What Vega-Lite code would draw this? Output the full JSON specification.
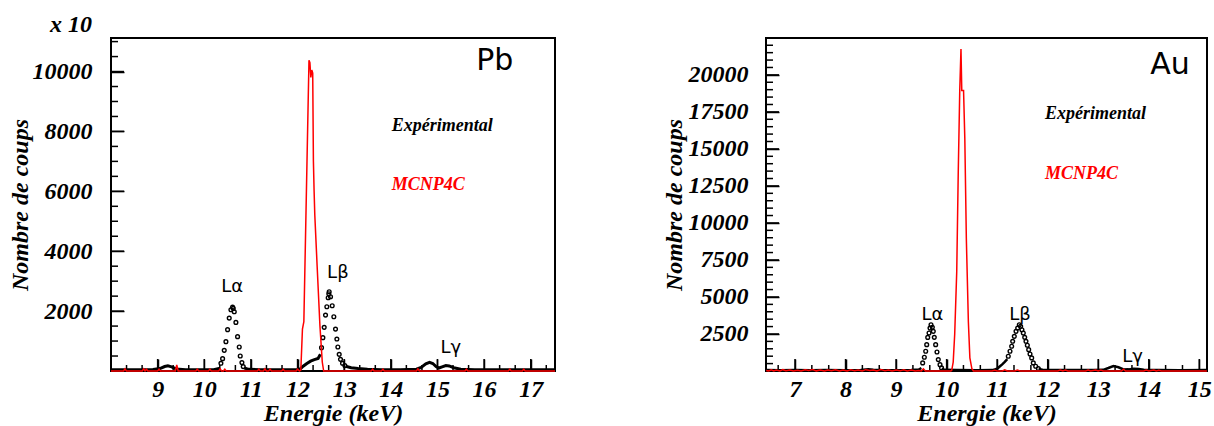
{
  "$schema": "https://vega.github.io/schema/vega-lite/v6.json",
  "padding": {"left": 7, "top": 12, "right": 0, "bottom": 0},
  "bounds": "flush",
  "spacing": 211,
  "datasets": {
    "pb_line": [
      {"E": 8.0, "counts": 45, "seg": 1}, {"E": 8.3, "counts": 40, "seg": 1}, {"E": 8.6, "counts": 45, "seg": 1}, {"E": 8.9, "counts": 50, "seg": 1},
      {"E": 9.05, "counts": 80, "seg": 1}, {"E": 9.15, "counts": 150, "seg": 1}, {"E": 9.22, "counts": 175, "seg": 1}, {"E": 9.3, "counts": 140, "seg": 1},
      {"E": 9.4, "counts": 70, "seg": 1}, {"E": 9.6, "counts": 45, "seg": 1}, {"E": 9.9, "counts": 40, "seg": 1}, {"E": 10.2, "counts": 45, "seg": 1},
      {"E": 10.34, "counts": 90, "seg": 1},
      {"E": 10.86, "counts": 100, "seg": 2}, {"E": 10.95, "counts": 55, "seg": 2}, {"E": 11.2, "counts": 45, "seg": 2}, {"E": 11.5, "counts": 40, "seg": 2},
      {"E": 11.8, "counts": 45, "seg": 2}, {"E": 12.0, "counts": 50, "seg": 2}, {"E": 12.06, "counts": 70, "seg": 2}, {"E": 12.12, "counts": 160, "seg": 2},
      {"E": 12.2, "counts": 250, "seg": 2}, {"E": 12.28, "counts": 330, "seg": 2}, {"E": 12.36, "counts": 380, "seg": 2}, {"E": 12.44, "counts": 420, "seg": 2},
      {"E": 12.49, "counts": 560, "seg": 2},
      {"E": 13.03, "counts": 160, "seg": 3}, {"E": 13.15, "counts": 110, "seg": 3}, {"E": 13.3, "counts": 80, "seg": 3}, {"E": 13.5, "counts": 60, "seg": 3},
      {"E": 13.8, "counts": 45, "seg": 3}, {"E": 14.2, "counts": 45, "seg": 3}, {"E": 14.55, "counts": 60, "seg": 3}, {"E": 14.65, "counts": 120, "seg": 3},
      {"E": 14.75, "counts": 240, "seg": 3}, {"E": 14.83, "counts": 290, "seg": 3}, {"E": 14.9, "counts": 250, "seg": 3}, {"E": 14.97, "counts": 150, "seg": 3},
      {"E": 15.03, "counts": 100, "seg": 3}, {"E": 15.1, "counts": 140, "seg": 3}, {"E": 15.18, "counts": 180, "seg": 3}, {"E": 15.25, "counts": 170, "seg": 3},
      {"E": 15.35, "counts": 110, "seg": 3}, {"E": 15.5, "counts": 60, "seg": 3}, {"E": 15.8, "counts": 45, "seg": 3}, {"E": 16.2, "counts": 40, "seg": 3},
      {"E": 16.8, "counts": 45, "seg": 3}, {"E": 17.2, "counts": 40, "seg": 3}, {"E": 17.52, "counts": 40, "seg": 3}
    ],
    "pb_pts": [
      {"E": 10.357, "counts": 257}, {"E": 10.393, "counts": 413}, {"E": 10.428, "counts": 690}, {"E": 10.464, "counts": 980},
      {"E": 10.5, "counts": 1380}, {"E": 10.535, "counts": 1767}, {"E": 10.571, "counts": 2045}, {"E": 10.607, "counts": 2133},
      {"E": 10.621, "counts": 2090}, {"E": 10.643, "counts": 1980}, {"E": 10.678, "counts": 1623}, {"E": 10.714, "counts": 1147},
      {"E": 10.75, "counts": 800}, {"E": 10.771, "counts": 500}, {"E": 10.807, "counts": 280}, {"E": 10.835, "counts": 147},
      {"E": 12.514, "counts": 780}, {"E": 12.543, "counts": 1113}, {"E": 12.571, "counts": 1457}, {"E": 12.6, "counts": 1867},
      {"E": 12.628, "counts": 2147}, {"E": 12.657, "counts": 2447}, {"E": 12.67, "counts": 2580}, {"E": 12.678, "counts": 2647},
      {"E": 12.707, "counts": 2480}, {"E": 12.743, "counts": 2180}, {"E": 12.778, "counts": 1813}, {"E": 12.814, "counts": 1400},
      {"E": 12.843, "counts": 1067}, {"E": 12.864, "counts": 800}, {"E": 12.893, "counts": 557}, {"E": 12.921, "counts": 390},
      {"E": 12.964, "counts": 257}, {"E": 13.014, "counts": 180}
    ],
    "pb_mc": [
      {"E": 8.0, "counts": 0}, {"E": 8.27, "counts": 0}, {"E": 8.3, "counts": 70}, {"E": 8.33, "counts": 0},
      {"E": 8.67, "counts": 0}, {"E": 8.7, "counts": 70}, {"E": 8.73, "counts": 0}, {"E": 8.76, "counts": 60}, {"E": 8.79, "counts": 0},
      {"E": 9.0, "counts": 0}, {"E": 9.03, "counts": 60}, {"E": 9.06, "counts": 0}, {"E": 9.38, "counts": 0}, {"E": 9.41, "counts": 200}, {"E": 9.44, "counts": 0},
      {"E": 9.82, "counts": 0}, {"E": 9.85, "counts": 60}, {"E": 9.88, "counts": 0}, {"E": 10.09, "counts": 0}, {"E": 10.12, "counts": 60}, {"E": 10.15, "counts": 0},
      {"E": 10.31, "counts": 0}, {"E": 10.34, "counts": 70}, {"E": 10.37, "counts": 0}, {"E": 10.41, "counts": 0}, {"E": 10.44, "counts": 60}, {"E": 10.47, "counts": 0},
      {"E": 11.14, "counts": 0}, {"E": 11.17, "counts": 60}, {"E": 11.2, "counts": 0}, {"E": 11.27, "counts": 0}, {"E": 11.3, "counts": 70}, {"E": 11.33, "counts": 0},
      {"E": 11.38, "counts": 0}, {"E": 11.41, "counts": 60}, {"E": 11.44, "counts": 0}, {"E": 11.66, "counts": 0}, {"E": 11.69, "counts": 60}, {"E": 11.72, "counts": 0},
      {"E": 11.97, "counts": 0}, {"E": 12.0, "counts": 60}, {"E": 12.04, "counts": 0},
      {"E": 12.07, "counts": 30}, {"E": 12.105, "counts": 1400}, {"E": 12.135, "counts": 1650}, {"E": 12.245, "counts": 10380},
      {"E": 12.265, "counts": 10300}, {"E": 12.285, "counts": 9800}, {"E": 12.305, "counts": 10050}, {"E": 12.325, "counts": 9950},
      {"E": 12.34, "counts": 7000}, {"E": 12.355, "counts": 6000}, {"E": 12.37, "counts": 5200}, {"E": 12.42, "counts": 3500},
      {"E": 12.48, "counts": 1500}, {"E": 12.53, "counts": 300}, {"E": 12.56, "counts": 0},
      {"E": 13.58, "counts": 0}, {"E": 13.61, "counts": 60}, {"E": 13.64, "counts": 0}, {"E": 13.8, "counts": 0}, {"E": 13.83, "counts": 60}, {"E": 13.86, "counts": 0},
      {"E": 14.55, "counts": 0}, {"E": 14.58, "counts": 70}, {"E": 14.61, "counts": 0}, {"E": 15.59, "counts": 0}, {"E": 15.62, "counts": 60}, {"E": 15.65, "counts": 0},
      {"E": 16.52, "counts": 0}, {"E": 16.55, "counts": 60}, {"E": 16.58, "counts": 0}, {"E": 16.82, "counts": 0}, {"E": 16.85, "counts": 60}, {"E": 16.88, "counts": 0},
      {"E": 17.52, "counts": 0}
    ],
    "au_line": [
      {"E": 6.43, "counts": 60, "seg": 1}, {"E": 6.7, "counts": 50, "seg": 1}, {"E": 7.0, "counts": 60, "seg": 1}, {"E": 7.3, "counts": 55, "seg": 1},
      {"E": 7.6, "counts": 60, "seg": 1}, {"E": 8.0, "counts": 55, "seg": 1}, {"E": 8.3, "counts": 60, "seg": 1}, {"E": 8.45, "counts": 120, "seg": 1},
      {"E": 8.55, "counts": 90, "seg": 1}, {"E": 8.7, "counts": 60, "seg": 1}, {"E": 9.0, "counts": 55, "seg": 1}, {"E": 9.3, "counts": 60, "seg": 1},
      {"E": 9.45, "counts": 100, "seg": 1}, {"E": 9.5, "counts": 200, "seg": 1},
      {"E": 9.9, "counts": 150, "seg": 2}, {"E": 9.95, "counts": 80, "seg": 2}, {"E": 10.2, "counts": 60, "seg": 2}, {"E": 10.6, "counts": 55, "seg": 2},
      {"E": 10.9, "counts": 60, "seg": 2}, {"E": 10.95, "counts": 100, "seg": 2}, {"E": 11.0, "counts": 150, "seg": 2}, {"E": 11.05, "counts": 300, "seg": 2},
      {"E": 11.1, "counts": 450, "seg": 2}, {"E": 11.15, "counts": 620, "seg": 2}, {"E": 11.2, "counts": 800, "seg": 2},
      {"E": 11.82, "counts": 130, "seg": 3}, {"E": 11.9, "counts": 90, "seg": 3}, {"E": 12.1, "counts": 70, "seg": 3}, {"E": 12.5, "counts": 60, "seg": 3},
      {"E": 12.9, "counts": 60, "seg": 3}, {"E": 13.1, "counts": 80, "seg": 3}, {"E": 13.2, "counts": 200, "seg": 3}, {"E": 13.3, "counts": 330, "seg": 3},
      {"E": 13.4, "counts": 250, "seg": 3}, {"E": 13.5, "counts": 100, "seg": 3}, {"E": 13.6, "counts": 110, "seg": 3}, {"E": 13.7, "counts": 150, "seg": 3},
      {"E": 13.8, "counts": 130, "seg": 3}, {"E": 13.9, "counts": 80, "seg": 3}, {"E": 14.2, "counts": 60, "seg": 3}, {"E": 14.6, "counts": 55, "seg": 3},
      {"E": 15.15, "counts": 60, "seg": 3}
    ],
    "au_pts": [
      {"E": 9.526, "counts": 545}, {"E": 9.559, "counts": 928}, {"E": 9.586, "counts": 1332}, {"E": 9.606, "counts": 1780},
      {"E": 9.626, "counts": 2270}, {"E": 9.652, "counts": 2565}, {"E": 9.671, "counts": 2900}, {"E": 9.691, "counts": 3123},
      {"E": 9.717, "counts": 2950}, {"E": 9.736, "counts": 2680}, {"E": 9.756, "counts": 2275}, {"E": 9.783, "counts": 1780},
      {"E": 9.809, "counts": 1285}, {"E": 9.835, "counts": 770}, {"E": 9.869, "counts": 430}, {"E": 9.9, "counts": 210},
      {"E": 11.22, "counts": 995}, {"E": 11.254, "counts": 1332}, {"E": 11.287, "counts": 1669}, {"E": 11.307, "counts": 2006},
      {"E": 11.339, "counts": 2342}, {"E": 11.373, "counts": 2679}, {"E": 11.406, "counts": 2901}, {"E": 11.438, "counts": 3123},
      {"E": 11.465, "counts": 3015}, {"E": 11.49, "counts": 2787}, {"E": 11.517, "counts": 2564}, {"E": 11.545, "counts": 2275},
      {"E": 11.57, "counts": 2006}, {"E": 11.597, "counts": 1737}, {"E": 11.624, "counts": 1440}, {"E": 11.65, "counts": 1151},
      {"E": 11.683, "counts": 882}, {"E": 11.715, "counts": 545}, {"E": 11.762, "counts": 323}, {"E": 11.815, "counts": 161}
    ],
    "au_mc": [
      {"E": 6.43, "counts": 40}, {"E": 6.48, "counts": 0}, {"E": 6.53, "counts": 80}, {"E": 6.58, "counts": 10}, {"E": 6.63, "counts": 60},
      {"E": 6.7, "counts": 0}, {"E": 6.76, "counts": 90}, {"E": 6.82, "counts": 20}, {"E": 6.9, "counts": 70}, {"E": 6.97, "counts": 0},
      {"E": 7.05, "counts": 50}, {"E": 7.12, "counts": 0}, {"E": 7.2, "counts": 80}, {"E": 7.27, "counts": 30}, {"E": 7.35, "counts": 100},
      {"E": 7.42, "counts": 10}, {"E": 7.5, "counts": 60}, {"E": 7.58, "counts": 0}, {"E": 7.65, "counts": 70}, {"E": 7.72, "counts": 20},
      {"E": 7.8, "counts": 90}, {"E": 7.88, "counts": 0}, {"E": 7.95, "counts": 60}, {"E": 8.03, "counts": 0}, {"E": 8.1, "counts": 80},
      {"E": 8.18, "counts": 20}, {"E": 8.25, "counts": 60}, {"E": 8.33, "counts": 0}, {"E": 8.4, "counts": 90}, {"E": 8.48, "counts": 30},
      {"E": 8.55, "counts": 70}, {"E": 8.62, "counts": 0}, {"E": 8.7, "counts": 100}, {"E": 8.78, "counts": 20}, {"E": 8.85, "counts": 70},
      {"E": 8.92, "counts": 0}, {"E": 9.0, "counts": 60}, {"E": 9.08, "counts": 10}, {"E": 9.15, "counts": 80}, {"E": 9.22, "counts": 0},
      {"E": 9.3, "counts": 60}, {"E": 9.38, "counts": 0}, {"E": 9.45, "counts": 40}, {"E": 9.5, "counts": 0}, {"E": 9.54, "counts": 150},
      {"E": 9.58, "counts": 0}, {"E": 10.08, "counts": 0},
      {"E": 10.1, "counts": 30}, {"E": 10.13, "counts": 600}, {"E": 10.16, "counts": 2500}, {"E": 10.2, "counts": 6700},
      {"E": 10.23, "counts": 13400}, {"E": 10.26, "counts": 19000}, {"E": 10.284, "counts": 21750}, {"E": 10.3, "counts": 18940},
      {"E": 10.335, "counts": 18940}, {"E": 10.36, "counts": 15690}, {"E": 10.39, "counts": 8960}, {"E": 10.43, "counts": 3350},
      {"E": 10.46, "counts": 880}, {"E": 10.5, "counts": 150}, {"E": 10.53, "counts": 0},
      {"E": 10.9, "counts": 0}, {"E": 10.95, "counts": 50}, {"E": 11.0, "counts": 0}, {"E": 11.1, "counts": 0}, {"E": 11.15, "counts": 80},
      {"E": 11.2, "counts": 0}, {"E": 11.35, "counts": 0}, {"E": 11.4, "counts": 60}, {"E": 11.45, "counts": 0}, {"E": 12.2, "counts": 0},
      {"E": 12.25, "counts": 70}, {"E": 12.3, "counts": 0}, {"E": 12.35, "counts": 60}, {"E": 12.4, "counts": 0}, {"E": 12.75, "counts": 0},
      {"E": 12.8, "counts": 70}, {"E": 12.85, "counts": 0}, {"E": 12.95, "counts": 60}, {"E": 13.0, "counts": 0}, {"E": 13.05, "counts": 60},
      {"E": 13.1, "counts": 0}, {"E": 13.46, "counts": 0}, {"E": 13.5, "counts": 120}, {"E": 13.54, "counts": 0}, {"E": 13.9, "counts": 0},
      {"E": 13.95, "counts": 60}, {"E": 14.0, "counts": 0}, {"E": 14.1, "counts": 70}, {"E": 14.15, "counts": 0}, {"E": 14.2, "counts": 50},
      {"E": 14.25, "counts": 0}, {"E": 15.15, "counts": 0}
    ]
  },
  "hconcat": [
    {
      "width": 444,
      "height": 333,
      "title": {"text": "x 10", "anchor": "start", "frame": "group", "dx": -61, "offset": 1, "font": "Liberation Serif", "fontSize": 24, "fontStyle": "italic", "fontWeight": "bold", "color": "black"},
      "layer": [
        {
          "data": {"name": "pb_line"},
          "mark": {"type": "line", "color": "black", "strokeWidth": 3},
          "encoding": {
            "x": {"field": "E", "type": "quantitative", "scale": {"domain": [8, 17.52], "nice": false, "zero": false},
                  "axis": {"orient": "bottom", "title": "Energie (keV)", "values": [9, 10, 11, 12, 13, 14, 15, 16, 17], "format": "d", "offset": -12, "tickSize": 12, "labelPadding": 6, "labelFlush": false, "titlePadding": 0}},
            "y": {"field": "counts", "type": "quantitative", "scale": {"domain": [0, 11120], "nice": false},
                  "axis": {"orient": "left", "title": "Nombre de coups", "values": [2000, 4000, 6000, 8000, 10000], "format": "d", "offset": -13, "tickSize": 13, "labelPadding": 19, "titlePadding": 0}},
            "detail": {"field": "seg"}
          }
        },
        {
          "data": {"values": [{"E": 9}, {"E": 10}, {"E": 11}, {"E": 12}, {"E": 13}, {"E": 14}, {"E": 15}, {"E": 16}, {"E": 17}]},
          "mark": {"type": "point", "shape": "M0,0V-1", "size": 576, "filled": false, "strokeWidth": 1.5, "color": "black", "opacity": 1},
          "encoding": {
            "x": {"field": "E", "type": "quantitative"},
            "y": {"datum": 0, "type": "quantitative"}
          }
        },
        {
          "data": {"values": [{"E": 8.333}, {"E": 8.667}, {"E": 9.333}, {"E": 9.667}, {"E": 10.333}, {"E": 10.667}, {"E": 11.333}, {"E": 11.667}, {"E": 12.333}, {"E": 12.667}, {"E": 13.333}, {"E": 13.667}, {"E": 14.333}, {"E": 14.667}, {"E": 15.333}, {"E": 15.667}, {"E": 16.333}, {"E": 16.667}, {"E": 17.333}]},
          "mark": {"type": "point", "shape": "M0,0V-1", "size": 144, "filled": false, "strokeWidth": 1.5, "color": "black", "opacity": 1},
          "encoding": {
            "x": {"field": "E", "type": "quantitative"},
            "y": {"datum": 0, "type": "quantitative"}
          }
        },
        {
          "data": {"values": [{"counts": 2000}, {"counts": 4000}, {"counts": 6000}, {"counts": 8000}, {"counts": 10000}]},
          "mark": {"type": "point", "shape": "M0,0H1", "size": 676, "filled": false, "strokeWidth": 1.5, "color": "black", "opacity": 1},
          "encoding": {
            "x": {"datum": 8, "type": "quantitative"},
            "y": {"field": "counts", "type": "quantitative"}
          }
        },
        {
          "data": {"values": [{"counts": 500}, {"counts": 1000}, {"counts": 1500}, {"counts": 2500}, {"counts": 3000}, {"counts": 3500}, {"counts": 4500}, {"counts": 5000}, {"counts": 5500}, {"counts": 6500}, {"counts": 7000}, {"counts": 7500}, {"counts": 8500}, {"counts": 9000}, {"counts": 9500}, {"counts": 10500}, {"counts": 11000}]},
          "mark": {"type": "point", "shape": "M0,0H1", "size": 196, "filled": false, "strokeWidth": 1.5, "color": "black", "opacity": 1},
          "encoding": {
            "x": {"datum": 8, "type": "quantitative"},
            "y": {"field": "counts", "type": "quantitative"}
          }
        },
        {
          "data": {"name": "pb_pts"},
          "mark": {"type": "point", "shape": "circle", "filled": false, "size": 14, "color": "black", "strokeWidth": 1.4, "opacity": 1},
          "encoding": {
            "x": {"field": "E", "type": "quantitative"},
            "y": {"field": "counts", "type": "quantitative"}
          }
        },
        {
          "data": {"name": "pb_mc"},
          "mark": {"type": "line", "color": "#ff0000", "strokeWidth": 1.5},
          "encoding": {
            "x": {"field": "E", "type": "quantitative"},
            "y": {"field": "counts", "type": "quantitative"}
          }
        },
        {
          "data": {"values": [{"E": 16.23, "counts": 10357, "label": "Pb"}]},
          "mark": {"type": "text", "font": "DejaVu Sans", "fontSize": 30, "align": "center", "baseline": "middle", "color": "black"},
          "encoding": {
            "x": {"field": "E", "type": "quantitative"},
            "y": {"field": "counts", "type": "quantitative"},
            "text": {"field": "label"}
          }
        },
        {
          "data": {"values": [{"E": 10.6, "counts": 2807, "label": "Lα"}, {"E": 12.864, "counts": 3257, "label": "Lβ"}, {"E": 15.285, "counts": 757, "label": "Lγ"}]},
          "mark": {"type": "text", "font": "DejaVu Sans", "fontSize": 18, "align": "center", "baseline": "middle", "color": "black"},
          "encoding": {
            "x": {"field": "E", "type": "quantitative"},
            "y": {"field": "counts", "type": "quantitative"},
            "text": {"field": "label"}
          }
        },
        {
          "data": {"values": [{"E": 14.02, "counts": 8190, "label": "Expérimental"}]},
          "mark": {"type": "text", "font": "Liberation Serif", "fontSize": 18, "fontStyle": "italic", "fontWeight": "bold", "align": "left", "baseline": "middle", "color": "black"},
          "encoding": {
            "x": {"field": "E", "type": "quantitative"},
            "y": {"field": "counts", "type": "quantitative"},
            "text": {"field": "label"}
          }
        },
        {
          "data": {"values": [{"E": 14.02, "counts": 6207, "label": "MCNP4C"}]},
          "mark": {"type": "text", "font": "Liberation Serif", "fontSize": 18, "fontStyle": "italic", "fontWeight": "bold", "align": "left", "baseline": "middle", "color": "#ff0000"},
          "encoding": {
            "x": {"field": "E", "type": "quantitative"},
            "y": {"field": "counts", "type": "quantitative"},
            "text": {"field": "label"}
          }
        }
      ]
    },
    {
      "width": 441,
      "height": 333,
      "layer": [
        {
          "data": {"name": "au_line"},
          "mark": {"type": "line", "color": "black", "strokeWidth": 2.5},
          "encoding": {
            "x": {"field": "E", "type": "quantitative", "scale": {"domain": [6.426, 15.152], "nice": false, "zero": false},
                  "axis": {"orient": "bottom", "title": "Energie (keV)", "values": [7, 8, 9, 10, 11, 12, 13, 14, 15], "format": "d", "offset": -12, "tickSize": 12, "labelPadding": 6, "labelFlush": false, "titlePadding": 0}},
            "y": {"field": "counts", "type": "quantitative", "scale": {"domain": [0, 22490], "nice": false},
                  "axis": {"orient": "left", "title": "Nombre de coups", "values": [2500, 5000, 7500, 10000, 12500, 15000, 17500, 20000], "format": "d", "offset": -13, "tickSize": 13, "labelPadding": 18, "titlePadding": 2}},
            "detail": {"field": "seg"}
          }
        },
        {
          "data": {"values": [{"E": 7}, {"E": 8}, {"E": 9}, {"E": 10}, {"E": 11}, {"E": 12}, {"E": 13}, {"E": 14}, {"E": 15}]},
          "mark": {"type": "point", "shape": "M0,0V-1", "size": 576, "filled": false, "strokeWidth": 1.5, "color": "black", "opacity": 1},
          "encoding": {
            "x": {"field": "E", "type": "quantitative"},
            "y": {"datum": 0, "type": "quantitative"}
          }
        },
        {
          "data": {"values": [{"E": 6.667}, {"E": 7.333}, {"E": 7.667}, {"E": 8.333}, {"E": 8.667}, {"E": 9.333}, {"E": 9.667}, {"E": 10.333}, {"E": 10.667}, {"E": 11.333}, {"E": 11.667}, {"E": 12.333}, {"E": 12.667}, {"E": 13.333}, {"E": 13.667}, {"E": 14.333}, {"E": 14.667}]},
          "mark": {"type": "point", "shape": "M0,0V-1", "size": 144, "filled": false, "strokeWidth": 1.5, "color": "black", "opacity": 1},
          "encoding": {
            "x": {"field": "E", "type": "quantitative"},
            "y": {"datum": 0, "type": "quantitative"}
          }
        },
        {
          "data": {"values": [{"counts": 2500}, {"counts": 5000}, {"counts": 7500}, {"counts": 10000}, {"counts": 12500}, {"counts": 15000}, {"counts": 17500}, {"counts": 20000}]},
          "mark": {"type": "point", "shape": "M0,0H1", "size": 676, "filled": false, "strokeWidth": 1.5, "color": "black", "opacity": 1},
          "encoding": {
            "x": {"datum": 6.426, "type": "quantitative"},
            "y": {"field": "counts", "type": "quantitative"}
          }
        },
        {
          "data": {"values": [{"counts": 500}, {"counts": 1000}, {"counts": 1500}, {"counts": 2000}, {"counts": 3000}, {"counts": 3500}, {"counts": 4000}, {"counts": 4500}, {"counts": 5500}, {"counts": 6000}, {"counts": 6500}, {"counts": 7000}, {"counts": 8000}, {"counts": 8500}, {"counts": 9000}, {"counts": 9500}, {"counts": 10500}, {"counts": 11000}, {"counts": 11500}, {"counts": 12000}, {"counts": 13000}, {"counts": 13500}, {"counts": 14000}, {"counts": 14500}, {"counts": 15500}, {"counts": 16000}, {"counts": 16500}, {"counts": 17000}, {"counts": 18000}, {"counts": 18500}, {"counts": 19000}, {"counts": 19500}, {"counts": 20500}, {"counts": 21000}, {"counts": 21500}, {"counts": 22000}]},
          "mark": {"type": "point", "shape": "M0,0H1", "size": 196, "filled": false, "strokeWidth": 1.5, "color": "black", "opacity": 1},
          "encoding": {
            "x": {"datum": 6.426, "type": "quantitative"},
            "y": {"field": "counts", "type": "quantitative"}
          }
        },
        {
          "data": {"name": "au_pts"},
          "mark": {"type": "point", "shape": "circle", "filled": false, "size": 14, "color": "black", "strokeWidth": 1.4, "opacity": 1},
          "encoding": {
            "x": {"field": "E", "type": "quantitative"},
            "y": {"field": "counts", "type": "quantitative"}
          }
        },
        {
          "data": {"name": "au_mc"},
          "mark": {"type": "line", "color": "#ff0000", "strokeWidth": 1.5},
          "encoding": {
            "x": {"field": "E", "type": "quantitative"},
            "y": {"field": "counts", "type": "quantitative"}
          }
        },
        {
          "data": {"values": [{"E": 14.42, "counts": 20670, "label": "Au"}]},
          "mark": {"type": "text", "font": "DejaVu Sans", "fontSize": 30, "align": "center", "baseline": "middle", "color": "black"},
          "encoding": {
            "x": {"field": "E", "type": "quantitative"},
            "y": {"field": "counts", "type": "quantitative"},
            "text": {"field": "label"}
          }
        },
        {
          "data": {"values": [{"E": 9.72, "counts": 3810, "label": "Lα"}, {"E": 11.452, "counts": 3810, "label": "Lβ"}, {"E": 13.678, "counts": 915, "label": "Lγ"}]},
          "mark": {"type": "text", "font": "DejaVu Sans", "fontSize": 18, "align": "center", "baseline": "middle", "color": "black"},
          "encoding": {
            "x": {"field": "E", "type": "quantitative"},
            "y": {"field": "counts", "type": "quantitative"},
            "text": {"field": "label"}
          }
        },
        {
          "data": {"values": [{"E": 11.946, "counts": 17372, "label": "Expérimental"}]},
          "mark": {"type": "text", "font": "Liberation Serif", "fontSize": 18, "fontStyle": "italic", "fontWeight": "bold", "align": "left", "baseline": "middle", "color": "black"},
          "encoding": {
            "x": {"field": "E", "type": "quantitative"},
            "y": {"field": "counts", "type": "quantitative"},
            "text": {"field": "label"}
          }
        },
        {
          "data": {"values": [{"E": 11.946, "counts": 13334, "label": "MCNP4C"}]},
          "mark": {"type": "text", "font": "Liberation Serif", "fontSize": 18, "fontStyle": "italic", "fontWeight": "bold", "align": "left", "baseline": "middle", "color": "#ff0000"},
          "encoding": {
            "x": {"field": "E", "type": "quantitative"},
            "y": {"field": "counts", "type": "quantitative"},
            "text": {"field": "label"}
          }
        }
      ]
    }
  ],
  "config": {
    "view": {"stroke": "black", "strokeWidth": 2},
    "axis": {
      "domain": false, "grid": false, "ticks": true, "tickColor": "black", "tickWidth": 1.5,
      "labelFont": "Liberation Serif", "labelFontSize": 24, "labelFontStyle": "italic", "labelFontWeight": "bold", "labelColor": "black",
      "titleFont": "Liberation Serif", "titleFontSize": 24, "titleFontStyle": "italic", "titleFontWeight": "bold", "titleColor": "black"
    }
  }
}
